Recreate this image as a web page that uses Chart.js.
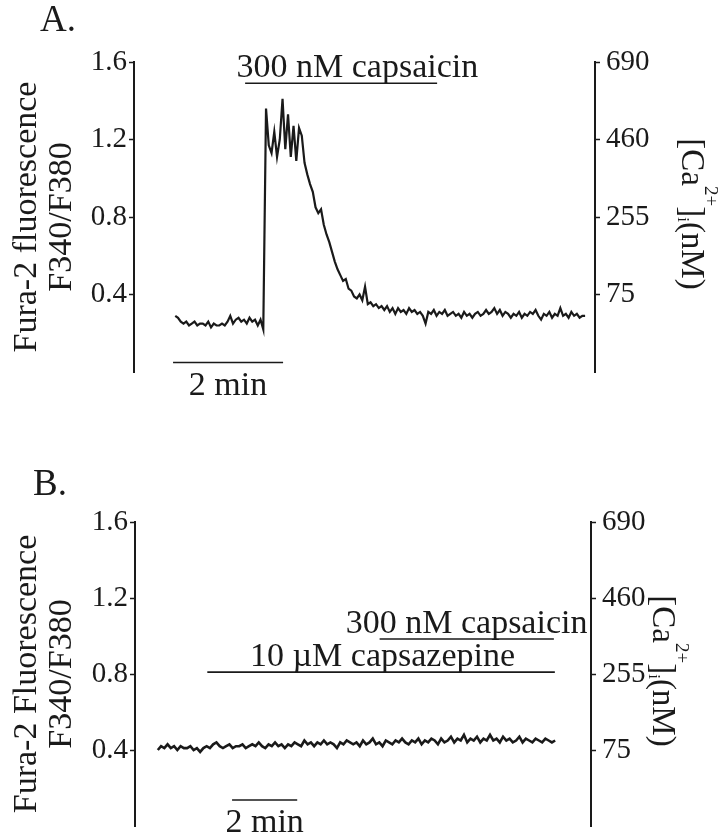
<!DOCTYPE html>
<html>
<head>
<meta charset="utf-8">
<script src="https://cdn.jsdelivr.net/npm/chart.js@4.4.0/dist/chart.umd.min.js"></script>
<style>
body{margin:0;background:#fff;width:725px;height:839px;overflow:hidden;position:relative}
.box{position:absolute;left:0;width:725px}
#boxA{top:0;height:430px}
#boxB{top:430px;height:430px}
</style>
</head>
<body>
<div class="box" id="boxA"><canvas id="chartA"></canvas></div>
<div class="box" id="boxB"><canvas id="chartB"></canvas></div>
<script>

// panel A : F340/F380 ratio, one reading every 0.05 min starting at 0.75 min
const aStart=0.75
const aStep=0.05
const ratioA=[
// resting
0.29,0.28,0.26,0.25,0.26,0.24,0.25,0.26,0.24,0.25,
0.25,0.24,0.26,0.23,0.25,0.24,0.24,0.25,0.24,0.26,
0.29,0.25,0.27,0.28,0.26,0.27,0.25,0.28,0.26,0.27,
0.24,0.27,0.22,
// capsaicin response
1.36,1.17,1.13,1.24,1.11,1.20,1.41,1.15,1.33,1.11,
1.27,1.09,1.26,1.22,
// recovery
1.08,1.02,0.97,0.93,0.85,0.82,0.84,0.76,0.71,0.67,
0.62,0.57,0.53,0.50,0.47,0.48,0.43,0.42,0.39,0.38,
0.40,0.37,0.44,0.35,0.36,0.34,0.35,0.33,0.34,
0.32,0.34,0.31,0.33,0.30,0.33,0.31,0.32,0.30,0.33,
0.31,0.32,0.30,0.31,0.29,0.25,0.31,0.30,0.32,0.29,
0.31,0.30,0.32,0.29,0.30,0.31,0.29,0.30,0.28,0.31,
0.29,0.30,0.28,0.30,0.31,0.29,0.30,0.32,0.30,0.31,
0.33,0.30,0.32,0.29,0.31,0.30,0.28,0.30,0.29,0.31,
0.28,0.30,0.29,0.31,0.30,0.32,0.29,0.27,0.30,0.29,
0.31,0.28,0.30,0.29,0.33,0.29,0.30,0.28,0.31,0.29,
0.30,0.28,0.29,0.29
]

// panel B : one reading every 0.1 min starting at 0.7 min
const bStart=0.7
const bStep=0.1
const ratioB=[
0.40,0.42,0.41,0.43,0.41,0.42,0.40,0.42,0.41,0.41,
0.42,0.40,0.41,0.39,0.41,0.42,0.41,0.43,0.44,0.42,
0.41,0.42,0.43,0.41,0.42,0.42,0.43,0.41,0.42,0.43,
0.42,0.44,0.42,0.41,0.43,0.42,0.44,0.42,0.43,0.41,
0.43,0.42,0.44,0.43,0.42,0.45,0.43,0.44,0.42,0.44,
0.43,0.45,0.43,0.44,0.43,0.41,0.44,0.43,0.45,0.44,
0.43,0.44,0.42,0.45,0.43,0.44,0.46,0.43,0.44,0.42,
0.45,0.44,0.43,0.45,0.44,0.46,0.44,0.43,0.45,0.44,
0.46,0.43,0.45,0.44,0.46,0.45,0.43,0.46,0.44,0.45,
0.47,0.44,0.46,0.45,0.48,0.44,0.46,0.45,0.47,0.44,
0.46,0.45,0.48,0.45,0.46,0.44,0.47,0.45,0.46,0.44,
0.45,0.47,0.44,0.46,0.45,0.44,0.46,0.45,0.44,0.46,
0.45,0.44,0.45
]

const ratioTicks=[0.4,0.8,1.2,1.6]
const caTicks=["75","255","460","690"]

// drug application bars (minutes) and the level they sit at (ratio units)
const drugsA=[{text:"300 nM capsaicin",from:2.02,to:5.51,level:1.49,textAt:4.06}]
const drugsB=[
{text:"10 µM capsazepine",from:2.22,to:12.89,level:0.81,textAt:7.6},
{text:"300 nM capsaicin",from:7.51,to:12.86,level:0.984,textAt:10.18}
]
const scaleBarA={from:0.71,to:2.71,level:0.049}
const scaleBarB={from:2.98,to:4.98,level:0.137}

const ink="#1a1a1a"
const serif='"Liberation Serif","Times New Roman",serif'


function decoPlugin(cfg){

return {
id:"deco",
afterDraw(chart){

let ctx=chart.ctx
let x=chart.scales.x
let y=chart.scales.y
let area=chart.chartArea

ctx.save()
ctx.fillStyle=ink
ctx.textBaseline="alphabetic"

// drug labels
ctx.font="34px "+serif
ctx.textAlign="center"
cfg.drugs.forEach(d=>{
ctx.fillText(d.text,x.getPixelForValue(d.textAt),y.getPixelForValue(d.level)-6)
})

// time scale bar label
let b=cfg.bar
ctx.fillText("2 min",x.getPixelForValue((b.from+b.to)/2),y.getPixelForValue(b.level)+32)

// panel letter
ctx.textAlign="left"
ctx.font="37px "+serif
ctx.fillText(cfg.letter,cfg.letterX,cfg.letterY)

// right axis title [Ca2+]i (nM), reading downwards
let parts=[
["[Ca",33,0],
["2+",19,-23],
["]",33,0],
["i",17,4],
["(nM)",33,0]
]
let total=0
parts.forEach(p=>{ctx.font=p[1]+"px "+serif;total+=ctx.measureText(p[0]).width})
ctx.translate(area.right+cfg.caOffset,(area.top+area.bottom)/2-3)
ctx.rotate(Math.PI/2)
let pos=-total/2
parts.forEach(p=>{
ctx.font=p[1]+"px "+serif
ctx.fillText(p[0],pos,p[2])
pos+=ctx.measureText(p[0]).width
})

ctx.restore()

}
}

}


function makeChart(id,cfg){

let trace=cfg.ratio.map((v,i)=>({x:cfg.start+i*cfg.step,y:v}))

let datasets=[{
data:trace,
borderColor:ink,
borderWidth:cfg.traceW,
pointRadius:0,
tension:0
}]

cfg.drugs.forEach(d=>{
datasets.push({
data:[{x:d.from,y:d.level},{x:d.to,y:d.level}],
borderColor:ink,
borderWidth:1.6,
pointRadius:0
})
})

datasets.push({
data:[{x:cfg.bar.from,y:cfg.bar.level},{x:cfg.bar.to,y:cfg.bar.level}],
borderColor:ink,
borderWidth:1.6,
pointRadius:0
})

let tickFont={family:serif,size:29}

return new Chart(document.getElementById(id),{

type:"line",

data:{datasets:datasets},

options:{
responsive:true,
maintainAspectRatio:false,
animation:false,
layout:{padding:{top:cfg.padTop,bottom:cfg.padBottom,left:0,right:0}},
plugins:{legend:{display:false},tooltip:{enabled:false}},
scales:{
x:{type:"linear",display:false,min:0,max:cfg.xMax},
y:{
position:"left",
min:0,
max:1.6,
afterBuildTicks:s=>{s.ticks=ratioTicks.map(v=>({value:v}))},
afterFit:s=>{s.width=cfg.leftW},
border:{display:true,color:ink,width:2},
grid:{drawOnChartArea:false,drawTicks:true,tickLength:5,tickWidth:1.5,tickColor:ink},
ticks:{color:ink,font:tickFont,padding:2,callback:v=>v.toFixed(1)},
title:{
display:true,
text:cfg.yTitle,
color:ink,
font:{family:serif,size:34,lineHeight:1.05},
padding:{top:9,bottom:0}
}
},
y2:{
position:"right",
min:0,
max:1.6,
afterBuildTicks:s=>{s.ticks=ratioTicks.map(v=>({value:v}))},
afterFit:s=>{s.width=cfg.rightW},
border:{display:true,color:ink,width:2},
grid:{drawOnChartArea:false,drawTicks:true,tickLength:5,tickWidth:1.5,tickColor:ink},
ticks:{color:ink,font:tickFont,padding:6,callback:(v,i)=>caTicks[i]}
}
}
},

plugins:[decoPlugin(cfg)]

})

}


makeChart("chartA",{
ratio:ratioA,start:aStart,step:aStep,traceW:2.2,
drugs:drugsA,bar:scaleBarA,
xMax:8.38,
padTop:62,padBottom:58,leftW:134,rightW:130,
yTitle:["Fura-2 fluorescence","F340/F380"],
letter:"A.",letterX:40,letterY:31,
caOffset:87
})

makeChart("chartB",{
ratio:ratioB,start:bStart,step:bStep,traceW:2.6,
drugs:drugsB,bar:scaleBarB,
xMax:14,
padTop:92,padBottom:34,leftW:135,rightW:134,
yTitle:["Fura-2 Fluorescence","F340/F380"],
letter:"B.",letterX:33,letterY:65,
caOffset:62
})

</script>
</body>
</html>
